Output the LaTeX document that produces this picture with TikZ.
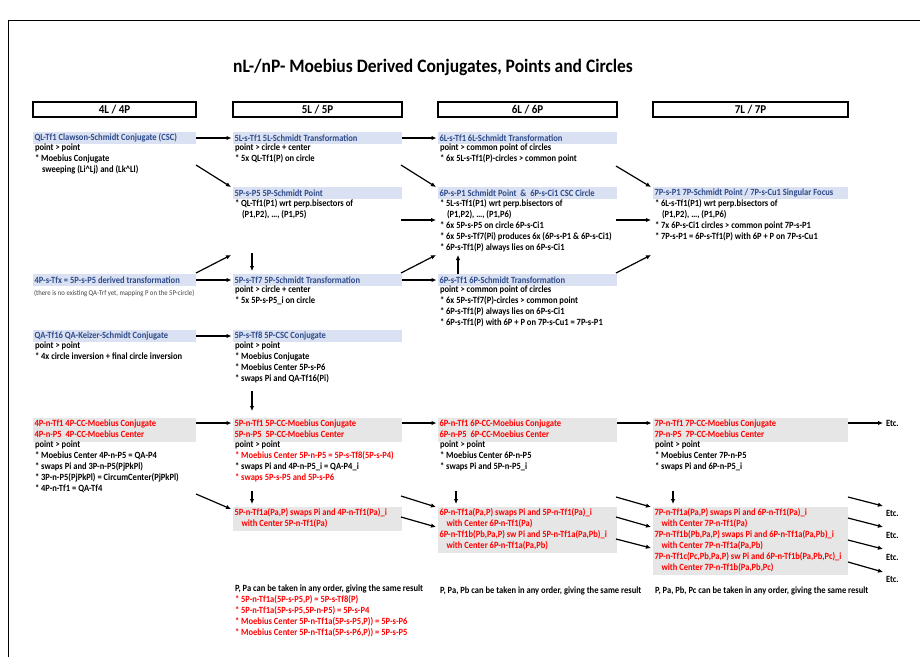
\documentclass[tikz,border=0pt]{standalone}
\usepackage{fontspec}
\setmainfont[FakeStretch=0.92]{Carlito}
\newfontfamily\bodyfam[FakeStretch=0.895]{Carlito}
\usetikzlibrary{arrows.meta}
\definecolor{hlblue}{HTML}{D9E1F2}
\definecolor{hltext}{HTML}{2F4B8A}
\definecolor{grayfill}{HTML}{E6E6E6}
\definecolor{myred}{HTML}{FF0000}
\newcommand\bfnt{\bodyfam\fontsize{9.5}{11}\selectfont\bfseries}
\newcommand\ind{\hspace*{7pt}}
\newcommand\ml[1]{\mbox{#1}}
\begin{document}
\begin{tikzpicture}[x=1pt,y=-1pt,
  every node/.style={inner sep=0pt, outer sep=0pt},
  hdr/.style={draw, line width=1.1pt, fill=white, font=\fontsize{12}{14}\selectfont\bfseries, minimum height=15pt},
  hl/.style={fill=hlblue, text=hltext, font=\bfnt, anchor=west, align=flush left, minimum height=12pt, inner xsep=1.5pt},
  body/.style={font=\bfnt, anchor=north west, align=left, execute at begin node=\strut},
  grayb/.style={fill=grayfill, text=myred, font=\bfnt, anchor=north west, align=flush left, inner xsep=1.5pt, inner ysep=1pt, execute at begin node=\strut, execute at end node=\strut},
  WA/.style={text width=160pt}, WB/.style={text width=166pt}, WC/.style={text width=176pt}, WD/.style={text width=192pt},
  arr/.style={-{Latex[length=5pt,width=4.5pt]}, line width=1.2pt},
  etc/.style={font=\bfnt, anchor=west}
]
\useasboundingbox (0,0) rectangle (920,657);
\draw[line width=0.8pt] (8,657) -- (8,20) -- (920,20);

\node[font=\fontsize{19}{22}\selectfont\bfseries] (title) at (433,67) {nL-/nP- Moebius Derived Conjugates, Points and Circles};

\node[hdr, minimum width=163pt] (h4) at (114.5,109.5) {4L / 4P};
\node[hdr, minimum width=169pt] (h5) at (317.5,109.5) {5L / 5P};
\node[hdr, minimum width=179pt] (h6) at (527.5,109.5) {6L / 6P};
\node[hdr, minimum width=195pt] (h7) at (750.5,109.5) {7L / 7P};

% ---------- column 4L/4P
\node[hl, WA] (q1) at (33,138) {QL-Tf1 Clawson-Schmidt Conjugate (CSC)};
\node[body] (q1b) at (35,144.3) {point > point\\* Moebius Conjugate\\\ind sweeping (Li\textasciicircum Lj) and (Lk\textasciicircum Ll)};
\node[hl, WA] (tfx) at (33,280) {\ml{4P-s-Tfx = 5P-s-P5 derived transformation}};
\node[font=\fontsize{7.3}{9}\selectfont, anchor=west, text=black!75] (tfxb) at (34,293) {(there is no existing QA-Trf yet, mapping P on the 5P-circle)};
\node[hl, WA] (qa) at (33,336) {QA-Tf16 QA-Keizer-Schmidt Conjugate};
\node[body] (qab) at (35,342.3) {point > point\\* 4x circle inversion + final circle inversion};
\node[grayb, WA] (g1) at (33,418) {4P-n-Tf1 4P-CC-Moebius Conjugate\\4P-n-P5\ \ 4P-CC-Moebius Center};
\node[body] (g1b) at (35,441.3) {point > point\\* Moebius Center 4P-n-P5 = QA-P4\\* swaps Pi and 3P-n-P5(PjPkPl)\\* 3P-n-P5(PjPkPl) = CircumCenter(PjPkPl)\\* 4P-n-Tf1 = QA-Tf4};

% ---------- column 5L/5P
\node[hl, WB] (s1) at (233,138) {5L-s-Tf1 5L-Schmidt Transformation};
\node[body] (s1b) at (235,144.3) {point > circle + center\\* 5x QL-Tf1(P) on circle};
\node[hl, WB] (s2) at (233,193) {5P-s-P5 5P-Schmidt Point};
\node[body] (s2b) at (235,199.3) {* QL-Tf1(P1) wrt perp.bisectors of\\\ind (P1,P2), \ldots, (P1,P5)};
\node[hl, WB] (s3) at (233,280) {5P-s-Tf7 5P-Schmidt Transformation};
\node[body] (s3b) at (235,286.3) {point > circle + center\\* 5x 5P-s-P5\_i on circle};
\node[hl, WB] (s4) at (233,336) {5P-s-Tf8 5P-CSC Conjugate};
\node[body] (s4b) at (235,342.3) {point > point\\* Moebius Conjugate\\* Moebius Center 5P-s-P6\\* swaps Pi and QA-Tf16(Pi)};
\node[grayb, WB] (g2) at (233,418) {5P-n-Tf1 5P-CC-Moebius Conjugate\\5P-n-P5\ \ 5P-CC-Moebius Center};
\node[body] (g2b) at (235,441.3) {point > point\\\textcolor{myred}{* Moebius Center 5P-n-P5 = 5P-s-Tf8(5P-s-P4)}\\* swaps Pi and 4P-n-P5\_i = QA-P4\_i\\\textcolor{myred}{* swaps 5P-s-P5 and 5P-s-P6}};
\node[grayb, WB] (g2a) at (233,507) {\ml{5P-n-Tf1a(Pa,P) swaps Pi and 4P-n-Tf1(Pa)\_i}\\\ind with Center 5P-n-Tf1(Pa)};
\node[body] (n2) at (235,585.3) {P, Pa can be taken in any order, giving the same result\\\textcolor{myred}{* 5P-n-Tf1a(5P-s-P5,P) = 5P-s-Tf8(P)}\\\textcolor{myred}{* 5P-n-Tf1a(5P-s-P5,5P-n-P5) = 5P-s-P4}\\\textcolor{myred}{* Moebius Center 5P-n-Tf1a(5P-s-P5,P)) = 5P-s-P6}\\\textcolor{myred}{* Moebius Center 5P-n-Tf1a(5P-s-P6,P)) = 5P-s-P5}};

% ---------- column 6L/6P
\node[hl, WC] (t1) at (438,138) {6L-s-Tf1 6L-Schmidt Transformation};
\node[body] (t1b) at (440,144.3) {point > common point of circles\\* 6x 5L-s-Tf1(P)-circles > common point};
\node[hl, WC] (t2) at (438,193) {\ml{6P-s-P1 Schmidt Point\ \ \&\ \ 6P-s-Ci1 CSC Circle}};
\node[body] (t2b) at (440,199.3) {* 5L-s-Tf1(P1) wrt perp.bisectors of\\\ind (P1,P2), \ldots, (P1,P6)\\* 6x 5P-s-P5 on circle 6P-s-Ci1\\* 6x 5P-s-Tf7(Pi) produces 6x (6P-s-P1 \& 6P-s-Ci1)\\* 6P-s-Tf1(P) always lies on 6P-s-Ci1};
\node[hl, WC] (t3) at (438,280) {6P-s-Tf1 6P-Schmidt Transformation};
\node[body] (t3b) at (440,286.3) {point > common point of circles\\* 6x 5P-s-Tf7(P)-circles > common point\\* 6P-s-Tf1(P) always lies on 6P-s-Ci1\\* 6P-s-Tf1(P) with 6P + P on 7P-s-Cu1 = 7P-s-P1};
\node[grayb, WC] (g3) at (438,418) {6P-n-Tf1 6P-CC-Moebius Conjugate\\6P-n-P5\ \ 6P-CC-Moebius Center};
\node[body] (g3b) at (440,441.3) {point > point\\* Moebius Center 6P-n-P5\\* swaps Pi and 5P-n-P5\_i};
\node[grayb, WC] (g3a) at (438,507) {\ml{6P-n-Tf1a(Pa,P) swaps Pi and 5P-n-Tf1(Pa)\_i}\\\ind with Center 6P-n-Tf1(Pa)\\\ml{6P-n-Tf1b(Pb,Pa,P) sw Pi and 5P-n-Tf1a(Pa,Pb)\_i}\\\ind with Center 6P-n-Tf1a(Pa,Pb)};
\node[body] (n3) at (440,585.3) {P, Pa, Pb can be taken in any order, giving the same result};

% ---------- column 7L/7P
\node[hl, WD] (u2) at (653,193) {\ml{7P-s-P1 7P-Schmidt Point / 7P-s-Cu1 Singular Focus}};
\node[body] (u2b) at (655,199.3) {* 6L-s-Tf1(P1) wrt perp.bisectors of\\\ind (P1,P2), \ldots, (P1,P6)\\* 7x 6P-s-Ci1 circles > common point 7P-s-P1\\* 7P-s-P1 = 6P-s-Tf1(P) with 6P + P on 7P-s-Cu1};
\node[grayb, WD] (g4) at (653,418) {7P-n-Tf1 7P-CC-Moebius Conjugate\\7P-n-P5\ \ 7P-CC-Moebius Center};
\node[body] (g4b) at (655,441.3) {point > point\\* Moebius Center 7P-n-P5\\* swaps Pi and 6P-n-P5\_i};
\node[grayb, WD] (g4a) at (653,507) {\ml{7P-n-Tf1a(Pa,P) swaps Pi and 6P-n-Tf1(Pa)\_i}\\\ind with Center 7P-n-Tf1(Pa)\\\ml{7P-n-Tf1b(Pb,Pa,P) swaps Pi and 6P-n-Tf1a(Pa,Pb)\_i}\\\ind with Center 7P-n-Tf1a(Pa,Pb)\\\ml{7P-n-Tf1c(Pc,Pb,Pa,P) sw Pi and 6P-n-Tf1b(Pa,Pb,Pc)\_i}\\\ind with Center 7P-n-Tf1b(Pa,Pb,Pc)};
\node[body] (n4) at (655,585.3) {P, Pa, Pb, Pc can be taken in any order, giving the same result};

% ---------- Etc.
\node[etc] (e1) at (886,423) {Etc.};
\node[etc] (e2) at (886,513) {Etc.};
\node[etc] (e3) at (886,535) {Etc.};
\node[etc] (e4) at (886,557) {Etc.};
\node[etc] (e5) at (886,579) {Etc.};

% ---------- coordinates
\coordinate (a1) at (196,165); \coordinate (a1e) at (231,187);
\coordinate (a2) at (196,273); \coordinate (a2e) at (231,255);
\coordinate (a3) at (401,165); \coordinate (a3e) at (436,187);
\coordinate (a4) at (401,273); \coordinate (a4e) at (436,255);
\coordinate (a5) at (401,220); \coordinate (a5e) at (436,220);
\coordinate (a6) at (616,166); \coordinate (a6e) at (651,187);
\coordinate (a7) at (616,220); \coordinate (a7e) at (651,220);
\coordinate (a8) at (616,273); \coordinate (a8e) at (651,255);
\coordinate (v1) at (252,253); \coordinate (v1e) at (252,271);
\coordinate (v2) at (252,391); \coordinate (v2e) at (252,411);
\coordinate (v3) at (252,491); \coordinate (v3e) at (252,504);
\coordinate (v4) at (458,274); \coordinate (v4e) at (458,255);
\coordinate (v5) at (456,491); \coordinate (v5e) at (456,504);
\coordinate (v6) at (673,491); \coordinate (v6e) at (673,504);
\coordinate (b1) at (196,494); \coordinate (b1e) at (231,509);
\coordinate (b2) at (401,496); \coordinate (b2e) at (436,507);
\coordinate (b3) at (401,517); \coordinate (b3e) at (436,527);
\coordinate (b4) at (616,497); \coordinate (b4e) at (651,507);
\coordinate (b5) at (616,517); \coordinate (b5e) at (651,527);
\coordinate (b6) at (616,539); \coordinate (b6e) at (651,548);
\coordinate (c1) at (848,497); \coordinate (c1e) at (883,506);
\coordinate (c2) at (848,518); \coordinate (c2e) at (883,527);
\coordinate (c3) at (848,540); \coordinate (c3e) at (883,549);
\coordinate (c4) at (848,562); \coordinate (c4e) at (883,572);

% ---------- arrows
\draw[arr, shorten >=1.5pt] (q1.east) -- (s1.west);
\draw[arr, shorten >=1.5pt] (tfx.east) -- (s3.west);
\draw[arr, shorten >=1.5pt] (qa.east) -- (s4.west);
\draw[arr, shorten >=1.5pt] (s1.east) -- (t1.west);
\draw[arr, shorten >=1.5pt] (s3.east) -- (t3.west);
\draw[arr, shorten >=1.5pt] ([yshift=7pt]g1.east) -- ([yshift=7pt]g2.west);
\draw[arr, shorten >=1.5pt] ([yshift=7pt]g2.east) -- ([yshift=7pt]g3.west);
\draw[arr, shorten >=1.5pt] ([yshift=7pt]g3.east) -- ([yshift=7pt]g4.west);
\draw[arr, shorten >=3pt] ([yshift=7pt]g4.east) -- (e1.west);
\foreach \p in {a1,a2,a3,a4,a5,a6,a7,a8,v1,v2,v3,v4,v5,v6,b1,b2,b3,b4,b5,b6,c1,c2,c3,c4}
  \draw[arr] (\p) -- (\p e);
\end{tikzpicture}
\end{document}
